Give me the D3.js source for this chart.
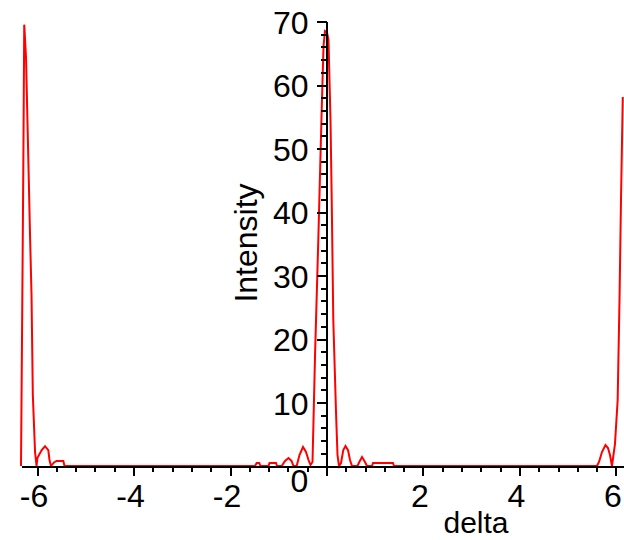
<!DOCTYPE html>
<html>
<head>
<meta charset="utf-8">
<script src="https://cdn.jsdelivr.net/npm/d3@7"></script>
<style>
  html, body { margin: 0; padding: 0; background: #fff; overflow: hidden; }
  svg { display: block; }
  text { font-family: "Liberation Sans", Arial, sans-serif; fill: #000; }
</style>
</head>
<body>
<div id="chart-container"></div>
<script>
// intensity samples (delta in radians)
var delta = [
  -6.332, -6.305, -6.284, -6.265, -6.228, -6.176, -6.145, -6.114, -6.087, -6.041, -6.010,
  -5.990, -5.903, -5.834, -5.766, -5.741, -5.710, -5.642, -5.593, -5.455, -5.430,
  -1.482, -1.447, -1.393, -1.368, -1.202, -1.181, -1.047, -1.026,
  -0.928, -0.860, -0.788, -0.725, -0.684, -0.618, -0.560, -0.487, -0.425, -0.373, -0.332,
  -0.290, -0.269, -0.238, -0.170, -0.104, -0.062, -0.031, 0.010, 0.041, 0.083, 0.108, 0.141, 0.197, 0.228, 0.259,
  0.301, 0.348, 0.394, 0.446, 0.487, 0.528, 0.642, 0.680, 0.736, 0.798, 0.839,
  0.943, 0.964, 1.378, 1.399,
  5.606, 5.648, 5.710, 5.782, 5.834, 5.876, 5.917, 5.979, 6.035, 6.073, 6.104, 6.141
]
var intensity = [
  0, 26.1, 47.2, 69.5, 64.3, 46.9, 36.4, 26.9, 11.2, 2.2, 0,
  1.3, 2.5, 3.1, 2.5, 0.9, 0, 0.6, 0.8, 0.8, 0,
  0, 0.47, 0.47, 0, 0, 0.47, 0.47, 0,
  0, 0.8, 1.26, 0.8, 0, 0, 1.73, 2.99, 2.2, 0.94, 0.16,
  0.63, 7.24, 17.3, 35.6, 54.8, 66.1, 68.5, 68.3, 67.1, 54.5, 42.0, 23.0, 8.5, 1.73, 0,
  0.47, 2.5, 3.15, 2.5, 0.94, 0, 0, 0.63, 1.42, 0.63, 0,
  0, 0.47, 0.47, 0,
  0, 0.63, 2.2, 3.3, 2.83, 1.73, 0, 3.46, 10.4, 26.1, 41.9, 58.1
]

var xTicks = [-6, -4, -2, 0, 2, 4, 6]
var xTickLabels = ["-6", "-4", "-2", "0", "2", "4", "6"]
var xMinorTicks = d3.range(-6, 6.01, 0.4).map(function(v){ return Math.round(v * 10) / 10 })
var yTicks = [10, 20, 30, 40, 50, 60, 70]
var yTickLabels = ["10", "20", "30", "40", "50", "60", "70"]
var yMinorTicks = d3.range(2, 70.1, 2)

var width = 624, height = 540

var svg = d3.select("#chart-container")
  .append("svg")
  .attr("width", width)
  .attr("height", height)

var x = d3.scaleLinear().domain([-6.33, 6.33]).range([21.1, 631.9])
var y = d3.scaleLinear().domain([0, 70]).range([466, 21.5])

var data = delta.map(function(d, i){ return [d, intensity[i]] })

var line = d3.line()
  .x(function(d){ return x(d[0]) })
  .y(function(d){ return y(d[1]) })

svg.append("path")
  .datum(data)
  .attr("d", line)
  .attr("fill", "none")
  .attr("stroke", "#ff0000")
  .attr("stroke-width", 2)

// x axis (major + minor ticks hang below the line)
var xAxisG = svg.append("g").attr("transform", "translate(0," + y(0) + ")")
xAxisG.append("g")
  .call(d3.axisBottom(x).tickValues(xMinorTicks).tickSize(6).tickSizeOuter(0).tickFormat(""))
xAxisG.append("g")
  .call(d3.axisBottom(x).tickValues(xTicks).tickSize(10).tickSizeOuter(0).tickFormat(""))

// y axis sits at delta = 0
var yAxisG = svg.append("g").attr("transform", "translate(" + x(0) + ",0)")
yAxisG.append("g")
  .call(d3.axisLeft(y).tickValues(yMinorTicks).tickSize(6).tickSizeOuter(0).tickFormat(""))
yAxisG.append("g")
  .call(d3.axisLeft(y).tickValues(yTicks).tickSize(10).tickSizeOuter(0).tickFormat(""))

svg.selectAll(".domain, .tick line")
  .attr("stroke", "#000")
  .attr("stroke-width", 2)
  .attr("shape-rendering", "crispEdges")

// tick labels
svg.append("g").selectAll("text")
  .data(xTicks)
  .enter().append("text")
  .attr("x", function(d){ return d === 0 ? x(0) - 27 : x(d) - 3 })
  .attr("y", function(d){ return d === 0 ? 492 : 507 })
  .attr("text-anchor", "middle")
  .style("font-size", "32px")
  .text(function(d, i){ return xTickLabels[i] })

svg.append("g").selectAll("text")
  .data(yTicks)
  .enter().append("text")
  .attr("x", x(0) - 18)
  .attr("y", function(d){ return y(d) + 12 })
  .attr("text-anchor", "end")
  .style("font-size", "32px")
  .text(function(d, i){ return yTickLabels[i] })

// axis titles
svg.append("text")
  .attr("transform", "translate(257,243) rotate(-90)")
  .attr("text-anchor", "middle")
  .style("font-size", "32px")
  .text("Intensity")

svg.append("text")
  .attr("x", 476)
  .attr("y", 533)
  .attr("text-anchor", "middle")
  .style("font-size", "30px")
  .text("delta")
</script>
</body>
</html>
